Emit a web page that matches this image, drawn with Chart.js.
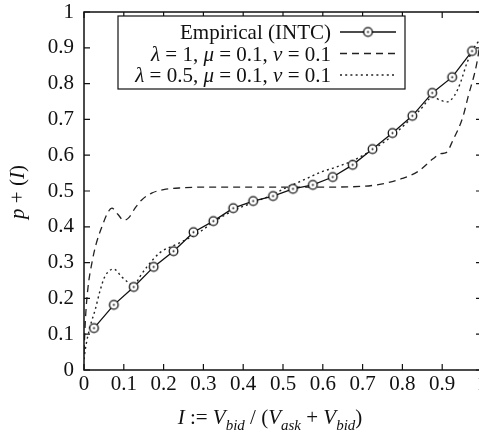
<!DOCTYPE html>
<html>
<head>
<meta charset="utf-8">
<script src="https://cdn.jsdelivr.net/npm/chart.js@4/dist/chart.umd.min.js"></script>
<style>
  html, body { margin: 0; padding: 0; background: #fff; overflow: hidden; }
  #c { display: block; }
</style>
</head>
<body>
<canvas id="c" width="500" height="437" style="width:500px;height:437px"></canvas>
<script>
// Order-book imbalance bins and empirical probability of an up move
const empiricalX = [0.025, 0.075, 0.125, 0.175, 0.225, 0.275, 0.325, 0.375, 0.425, 0.475,
                    0.525, 0.575, 0.625, 0.675, 0.725, 0.775, 0.825, 0.875, 0.925, 0.975];
const empiricalY = [0.117, 0.182, 0.232, 0.288, 0.332, 0.385, 0.416, 0.452, 0.472, 0.486,
                    0.506, 0.517, 0.539, 0.573, 0.617, 0.662, 0.710, 0.774, 0.818, 0.891];

// Model curve, lambda = 1
const model1X = [0, 0.004, 0.01, 0.02, 0.03, 0.045, 0.06, 0.07, 0.085, 0.1, 0.112, 0.13, 0.145,
                 0.17, 0.2, 0.25, 0.3, 0.4, 0.5, 0.6, 0.7, 0.75, 0.8, 0.84, 0.877, 0.895, 0.91,
                 0.927, 0.952, 0.965, 0.987, 1.0];
const model1Y = [0.05, 0.15, 0.23, 0.30, 0.35, 0.40, 0.44, 0.452, 0.435, 0.418, 0.425, 0.455, 0.475,
                 0.494, 0.504, 0.509, 0.511, 0.511, 0.511, 0.511, 0.513, 0.52, 0.535, 0.555, 0.59, 0.604, 0.607,
                 0.642, 0.707, 0.763, 0.857, 0.95];

// Model curve, lambda = 0.5
const model2X = [0, 0.003, 0.015, 0.028, 0.04, 0.052, 0.075, 0.095, 0.113, 0.125, 0.14, 0.158,
                 0.19, 0.24, 0.29, 0.325, 0.375, 0.425, 0.475, 0.5, 0.55, 0.6, 0.626, 0.676, 0.72,
                 0.77, 0.82, 0.844, 0.877, 0.894, 0.912, 0.93, 0.945, 0.962, 0.977, 0.99, 1.0];
const model2Y = [0.03, 0.056, 0.12, 0.168, 0.22, 0.26, 0.282, 0.26, 0.243, 0.235, 0.26, 0.288,
                 0.327, 0.355, 0.385, 0.413, 0.445, 0.468, 0.49, 0.505, 0.53, 0.555, 0.564, 0.585, 0.612,
                 0.65, 0.70, 0.726, 0.763, 0.754, 0.749, 0.765, 0.80, 0.857, 0.894, 0.916, 0.93];

const xTicks = [0, 0.1, 0.2, 0.3, 0.4, 0.5, 0.6, 0.7, 0.8, 0.9, 1];
const yTicks = [0, 0.1, 0.2, 0.3, 0.4, 0.5, 0.6, 0.7, 0.8, 0.9, 1];

// Rich-text pieces (italic / subscript runs)
const legendLabels = [
  [{ t: 'Empirical (INTC)' }],
  [{ t: 'λ', it: 1 }, { t: ' = 1, ' }, { t: 'μ', it: 1 }, { t: ' = 0.1, ' }, { t: 'ν', it: 1 }, { t: ' = 0.1' }],
  [{ t: 'λ', it: 1 }, { t: ' = 0.5, ' }, { t: 'μ', it: 1 }, { t: ' = 0.1, ' }, { t: 'ν', it: 1 }, { t: ' = 0.1' }]
];
const xTitle = [{ t: 'I', it: 1 }, { t: ' := ' }, { t: 'V', it: 1 }, { t: 'bid', it: 1, sub: 1 },
                { t: ' / (' }, { t: 'V', it: 1 }, { t: 'ask', it: 1, sub: 1 }, { t: ' + ' },
                { t: 'V', it: 1 }, { t: 'bid', it: 1, sub: 1 }, { t: ')' }];
const yTitle = [{ t: 'p', it: 1 }, { t: ' + (' }, { t: 'I', it: 1 }, { t: ')' }];

const INK = '#111';
const FAMILY = '"Liberation Serif", "DejaVu Serif", serif';
const SIZE = 21;

function pairs(xs, ys) { return xs.map((x, i) => ({ x, y: ys[i] })); }

// circle-with-dot marker
function makeMarker() {
  const m = document.createElement('canvas');
  m.width = 13; m.height = 13;
  const g = m.getContext('2d');
  g.beginPath(); g.arc(6.5, 6.5, 4.3, 0, Math.PI * 2);
  g.fillStyle = '#fff'; g.fill();
  g.lineWidth = 1.3; g.strokeStyle = INK; g.stroke();
  g.beginPath(); g.arc(6.5, 6.5, 1.0, 0, Math.PI * 2);
  g.fillStyle = INK; g.fill();
  return m;
}
const marker = makeMarker();

function fontFor(seg) {
  const size = seg.sub ? 15 : SIZE;
  return (seg.it ? 'italic ' : '') + size + 'px ' + FAMILY;
}
function richWidth(ctx, segs) {
  let w = 0;
  for (const s of segs) { ctx.font = fontFor(s); w += ctx.measureText(s.t).width; }
  return w;
}
function drawRich(ctx, segs, x, y, align) {
  const w = richWidth(ctx, segs);
  let cx = align === 'right' ? x - w : align === 'center' ? x - w / 2 : x;
  ctx.textBaseline = 'alphabetic';
  ctx.textAlign = 'left';
  ctx.fillStyle = INK;
  for (const s of segs) {
    ctx.font = fontFor(s);
    ctx.fillText(s.t, cx, y + (s.sub ? 6 : 0));
    cx += ctx.measureText(s.t).width;
  }
}

const decorations = {
  id: 'decorations',
  afterDatasetsDraw(chart) {
    const ctx = chart.ctx;
    const a = chart.chartArea;
    const xs = chart.scales.x, ys = chart.scales.y;
    ctx.save();
    // frame
    ctx.strokeStyle = INK;
    ctx.lineWidth = 1.5;
    ctx.strokeRect(a.left, a.top, a.right - a.left, a.bottom - a.top);
    // inward ticks on all four sides
    ctx.lineWidth = 1.2;
    ctx.beginPath();
    xTicks.forEach(v => {
      const px = xs.getPixelForValue(v);
      ctx.moveTo(px, a.bottom); ctx.lineTo(px, a.bottom - 6);
      ctx.moveTo(px, a.top); ctx.lineTo(px, a.top + 6);
    });
    yTicks.forEach(v => {
      const py = ys.getPixelForValue(v);
      ctx.moveTo(a.left, py); ctx.lineTo(a.left + 6, py);
      ctx.moveTo(a.right, py); ctx.lineTo(a.right - 6, py);
    });
    ctx.stroke();

    // legend
    const bx = 118, by = 16, bw = 287, bh = 73;
    ctx.fillStyle = '#fff';
    ctx.fillRect(bx, by, bw, bh);
    ctx.lineWidth = 1.2;
    ctx.strokeStyle = INK;
    ctx.strokeRect(bx, by, bw, bh);
    const rows = [32, 53.5, 75];
    chart.data.datasets.forEach((ds, i) => {
      const yy = rows[i];
      drawRich(ctx, legendLabels[i], 331, yy + 7, 'right');
      ctx.beginPath();
      ctx.setLineDash(ds.borderDash || []);
      ctx.lineWidth = ds.borderWidth;
      ctx.strokeStyle = ds.borderColor;
      ctx.moveTo(340, yy); ctx.lineTo(396, yy);
      ctx.stroke();
      ctx.setLineDash([]);
      if (ds.pointStyle && ds.pointRadius > 0) {
        ctx.drawImage(marker, 368 - 6.5, yy - 6.5);
      }
    });

    // axis titles
    drawRich(ctx, xTitle, 270, 424, 'center');
    ctx.translate(24, 192);
    ctx.rotate(-Math.PI / 2);
    drawRich(ctx, yTitle, 0, 0, 'center');
    ctx.restore();
  }
};

new Chart(document.getElementById('c'), {
  type: 'line',
  data: {
    datasets: [
      {
        label: 'Empirical (INTC)',
        data: pairs(empiricalX, empiricalY),
        borderColor: INK, borderWidth: 1.3,
        pointStyle: marker, pointRadius: 4.5,
        tension: 0
      },
      {
        label: 'λ = 1, μ = 0.1, ν = 0.1',
        data: pairs(model1X, model1Y),
        borderColor: '#222', borderWidth: 1.3, borderDash: [7, 5],
        pointRadius: 0, cubicInterpolationMode: 'monotone'
      },
      {
        label: 'λ = 0.5, μ = 0.1, ν = 0.1',
        data: pairs(model2X, model2Y),
        borderColor: '#222', borderWidth: 1.4, borderDash: [2, 3.2],
        pointRadius: 0, cubicInterpolationMode: 'monotone'
      }
    ]
  },
  options: {
    responsive: false,
    animation: false,
    layout: { padding: { left: 0, right: 18, top: 12, bottom: 0 } },
    plugins: { legend: { display: false }, tooltip: { enabled: false } },
    scales: {
      x: {
        type: 'linear', min: 0, max: 1,
        grid: { display: false, drawTicks: false },
        border: { display: false },
        afterBuildTicks: s => { s.ticks = xTicks.map(v => ({ value: v })); },
        afterFit: s => { s.height = 67; },
        ticks: {
          padding: 2, color: INK,
          font: { family: FAMILY, size: SIZE },
          callback: v => String(v)
        }
      },
      y: {
        type: 'linear', min: 0, max: 1,
        grid: { display: false, drawTicks: false },
        border: { display: false },
        afterBuildTicks: s => { s.ticks = yTicks.map(v => ({ value: v })); },
        afterFit: s => { s.width = 84; },
        ticks: {
          padding: 10, color: INK,
          font: { family: FAMILY, size: SIZE, lineHeight: 0.1 },
          callback: v => String(v)
        }
      }
    }
  },
  plugins: [decorations]
});
</script>
</body>
</html>
